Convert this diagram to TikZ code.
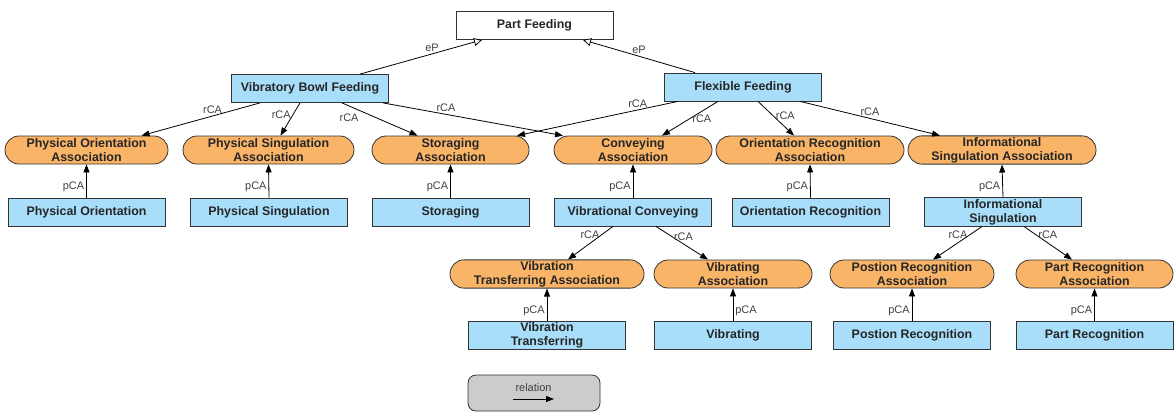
\documentclass[tikz,border=0pt]{standalone}
\usepackage{fontspec}
\setmainfont{Liberation Sans}
\usetikzlibrary{arrows.meta,calc}
\definecolor{conceptblue}{RGB}{168,222,250}
\definecolor{assocorange}{RGB}{249,180,104}
\definecolor{legendgray}{RGB}{204,204,204}
\definecolor{linegray}{RGB}{51,51,51}
\tikzset{
x=0.75pt, y=-0.75pt,
concept/.style={draw=linegray,fill=conceptblue,line width=0.6pt,minimum width=117.75pt,minimum height=21pt,
  inner xsep=2pt,inner ysep=1pt,align=center,text=black!85,font=\fontsize{9.3}{10.5}\selectfont\bfseries},
assoc/.style={concept,fill=assocorange,rounded corners=10.5pt,minimum width=#1},
rel/.style={line width=0.6pt,-{Triangle[length=6pt,width=4.5pt]}},
ep/.style={line width=0.6pt,-{Triangle[open,length=6pt,width=6pt,fill=white]}},
lbl/.style={font=\fontsize{8.2}{9.6}\selectfont,text=black!75,inner sep=1.5pt}
}
\begin{document}
\begin{tikzpicture}
\useasboundingbox (0,0) rectangle (1174,412);

% top level
\node[concept,fill=white] (pf)   at (534.5,25.5) {Part Feeding};
\node[concept]            (vbf)  at (310,88.5)   {Vibratory Bowl Feeding};
\node[concept]            (ff)   at (743,87)     {Flexible Feeding};

% associations
\node[assoc=122.25pt] (poa)  at (86.5,150)  {Physical Orientation\\Association};
\node[assoc=128.25pt] (psa)  at (268.5,150) {Physical Singulation\\Association};
\node[assoc=117.75pt] (sa)   at (450.5,150) {Storaging\\Association};
\node[assoc=118.5pt]  (ca)   at (633,150)   {Conveying\\Association};
\node[assoc=141pt]    (ora)  at (810,150)   {Orientation Recognition\\Association};
\node[assoc=141pt]    (isa)  at (1002,150)  {Informational\\Singulation Association};

\node[concept] (po)   at (86.5,212)  {Physical Orientation};
\node[concept] (ps)   at (269,212)   {Physical Singulation};
\node[concept] (st)   at (450.5,212) {Storaging};
\node[concept] (vc)   at (633,212)   {Vibrational Conveying};
\node[concept] (orec) at (810.5,212) {Orientation Recognition};
\node[concept] (insg) at (1003,212)  {Informational\\Singulation};

\node[assoc=145.5pt]  (vta)  at (547,274)    {Vibration\\Transferring Association};
\node[assoc=118.5pt]  (va)   at (733,274)    {Vibrating\\Association};
\node[assoc=123pt]    (pra)  at (912,274)    {Postion Recognition\\Association};
\node[assoc=117.75pt] (para) at (1094.5,274) {Part Recognition\\Association};

\node[concept] (vt)   at (547,335.5)    {Vibration\\Transferring};
\node[concept] (vib)  at (733,335.5)    {Vibrating};
\node[concept] (prec) at (912,335.5)    {Postion Recognition};
\node[concept] (parc) at (1094.5,335.5) {Part Recognition};

% legend
\node[draw=linegray,fill=legendgray,rounded corners=6pt,line width=0.6pt,
      minimum width=99pt,minimum height=27pt] (legend) at (534,393) {};
\node[lbl] (reltext) at (533.5,388) {relation};
\coordinate (relfrom) at (513,399);
\coordinate (relto)   at (554,399);
\draw[rel] (relfrom) -- (relto);

% eP
\path[ep] ($(vbf.north)+(50,0)$) edge node[lbl,pos=.59,above] {eP} ($(pf.south)+(-52.5,0)$)
          ($(ff.north)+(-48,0)$) edge node[lbl,pos=.5,above]  {eP} ($(pf.south)+(48.5,0)$);

% rCA
\path[rel] ($(vbf.south)+(-50,0)$) edge node[lbl,pos=.4,above]        {rCA} ($(poa.north)+(55,0)$)
           ($(vbf.south)+(-10,0)$) edge node[lbl,pos=.36,left]        {rCA} ($(psa.north)+(12,0)$)
           ($(vbf.south)+(32,0)$)  edge node[lbl,pos=.25,below left]  {rCA} ($(sa.north)+(-33,0)$)
           ($(vbf.south)+(73,0)$)  edge node[lbl,pos=.35,above]       {rCA} ($(ca.north)+(-70,0)$)
           ($(ff.south)+(-65,0)$)  edge node[lbl,pos=.25,above]       {rCA} ($(sa.north)+(66.5,0)$)
           ($(ff.south)+(-25,0)$)  edge node[lbl,pos=.5,right]        {rCA} ($(ca.north)+(29,0)$)
           ($(ff.south)+(15,0)$)   edge node[lbl,pos=.43,right]       {rCA} ($(ora.north)+(-16,0)$)
           ($(ff.south)+(57,0)$)   edge node[lbl,pos=.5,above]        {rCA} ($(isa.north)+(-62,0)$)
           ($(vc.south)+(-20,0)$)  edge node[lbl,pos=.25,left]        {rCA} ($(vta.north)+(21,0)$)
           ($(vc.south)+(23,0)$)   edge node[lbl,pos=.3,right]        {rCA} ($(va.north)+(-25,0)$)
           ($(insg.south)+(-21,0)$) edge node[lbl,pos=.25,left]       {rCA} ($(pra.north)+(21,0)$)
           ($(insg.south)+(21,0)$)  edge node[lbl,pos=.25,right]      {rCA} ($(para.north)+(-22.5,0)$);

% pCA
\path[rel] (po.north)   edge node[lbl,pos=.32,left]  {pCA} (poa.south)
           (ps.north)   edge node[lbl,pos=.32,left]  {pCA} (psa.south)
           (st.north)   edge node[lbl,pos=.32,left]  {pCA} (sa.south)
           (vc.north)   edge node[lbl,pos=.32,left]  {pCA} (ca.south)
           (orec.north) edge node[lbl,pos=.32,left]  {pCA} (ora.south)
           (insg.north) edge node[lbl,pos=.32,left]  {pCA} (isa.south)
           (vt.north)   edge node[lbl,pos=.32,left]  {pCA} (vta.south)
           (vib.north)  edge node[lbl,pos=.32,right] {pCA} (va.south)
           (prec.north) edge node[lbl,pos=.32,left]  {pCA} (pra.south)
           (parc.north) edge node[lbl,pos=.32,left]  {pCA} (para.south);
\end{tikzpicture}
\end{document}
